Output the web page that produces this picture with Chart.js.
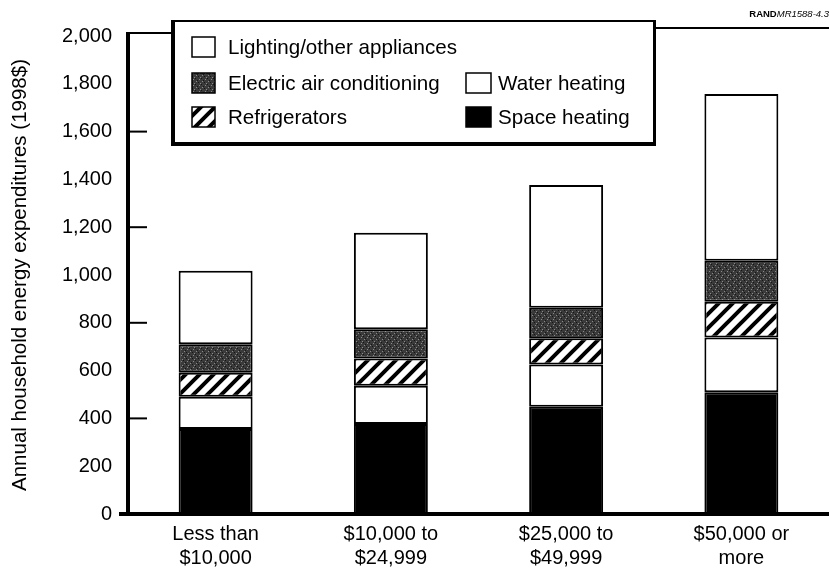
<!DOCTYPE html>
<html><head><meta charset="utf-8">
<script src="https://cdn.jsdelivr.net/npm/chart.js@4.4.1/dist/chart.umd.min.js"></script>
<style>html,body{margin:0;padding:0;background:#fff;}#wrap{width:829px;height:573px;position:relative;}</style>
</head><body><div id="wrap"><canvas id="c" width="829" height="573"></canvas></div>
<script>
const categories = [["Less than","$10,000"],["$10,000 to","$24,999"],["$25,000 to","$49,999"],["$50,000 or","more"]];
const spaceHeating    = [356, 377, 449, 509];
const waterHeating    = [135, 160, 177, 229];
const refrigerators   = [100, 114, 109, 150];
const airConditioning = [119, 122, 128, 172];
const lightingOther   = [308, 404, 514, 697];
const seriesNames = ["Space heating","Water heating","Refrigerators","Electric air conditioning","Lighting/other appliances"];
const yMin = 0, yMax = 2000, yStep = 200;
const innerTickValues = [400, 800, 1200, 1600];
const yTitle = "Annual household energy expenditures (1998$)";
const sourceBold = "RAND", sourceItalic = "MR1588-4.3";

const FONT = "'Liberation Sans', Arial, Helvetica, sans-serif";
const mainCtx = document.getElementById('c').getContext('2d');

function makeHatch(){
  const t=document.createElement('canvas'); t.width=14; t.height=14;
  const x=t.getContext('2d');
  x.fillStyle='#fff'; x.fillRect(0,0,14,14);
  x.strokeStyle='#000'; x.lineWidth=4; x.beginPath();
  x.moveTo(-3,17); x.lineTo(17,-3);
  x.moveTo(-3,3); x.lineTo(3,-3);
  x.moveTo(11,17); x.lineTo(17,11);
  x.stroke();
  return mainCtx.createPattern(t,'repeat');
}
function makeStipple(){
  const t=document.createElement('canvas'); t.width=6; t.height=6;
  const x=t.getContext('2d');
  x.fillStyle='#3a3a3a'; x.fillRect(0,0,6,6);
  x.fillStyle='#8a8a8a'; x.fillRect(1,1,1,1); x.fillRect(4,3,1,1); x.fillRect(2,5,1,1);
  x.fillStyle='#151515'; x.fillRect(3,0,1,1); x.fillRect(0,4,1,1); x.fillRect(5,2,1,1);
  return mainCtx.createPattern(t,'repeat');
}
const hatchPat = makeHatch();
const stipplePat = makeStipple();
const fills = ['#000000', '#ffffff', hatchPat, stipplePat, '#ffffff'];
const values = [spaceHeating, waterHeating, refrigerators, airConditioning, lightingOther];

const decor = {
  id:'decor',
  afterDraw(chart){
    const {ctx, chartArea:a, scales:{y}} = chart;
    ctx.save();
    ctx.strokeStyle='#000';
    // inward ticks
    ctx.lineWidth=2;
    innerTickValues.forEach(v=>{
      const py=y.getPixelForValue(v);
      ctx.beginPath(); ctx.moveTo(a.left, py); ctx.lineTo(a.left+19, py); ctx.stroke();
    });
    // top frame line
    const top=y.getPixelForValue(yMax)-3;
    ctx.beginPath(); ctx.moveTo(a.left, top); ctx.lineTo(172, top); ctx.stroke();
    ctx.beginPath(); ctx.moveTo(656, 28); ctx.lineTo(829, 28); ctx.stroke();
    // y axis extension up to the frame, x axis extension to the left
    ctx.lineWidth=4;
    ctx.beginPath(); ctx.moveTo(a.left, top-1); ctx.lineTo(a.left, a.top+1); ctx.stroke();
    ctx.beginPath(); ctx.moveTo(119, a.bottom); ctx.lineTo(a.left, a.bottom); ctx.stroke();
    // legend box
    const L=171, T=20, R=656, B=146;
    ctx.fillStyle='#fff'; ctx.fillRect(L,T,R-L,B-T);
    ctx.lineWidth=2; ctx.beginPath(); ctx.moveTo(L,T+1); ctx.lineTo(R,T+1); ctx.stroke();
    ctx.lineWidth=4; ctx.beginPath(); ctx.moveTo(L+2,T); ctx.lineTo(L+2,B); ctx.stroke();
    ctx.lineWidth=4; ctx.beginPath(); ctx.moveTo(L,B-2); ctx.lineTo(R,B-2); ctx.stroke();
    ctx.lineWidth=3; ctx.beginPath(); ctx.moveTo(R-1.5,T); ctx.lineTo(R-1.5,B); ctx.stroke();
    // legend items: [dataset index, swatch x, swatch y, text x]
    const items=[[4,192,37,228],[3,192,73,228],[2,192,107,228],[1,466,73,498],[0,466,107,498]];
    ctx.font='20.6px '+FONT; ctx.textBaseline='middle'; ctx.textAlign='left';
    items.forEach(([i,sx,sy,tx])=>{
      const w = sx<300?23:25, h=20;
      ctx.fillStyle=fills[i]; ctx.fillRect(sx,sy,w,h);
      ctx.lineWidth=1.5; ctx.strokeStyle='#000'; ctx.strokeRect(sx,sy,w,h);
      ctx.fillStyle='#000';
      ctx.fillText(chart.data.datasets[i].label, tx, sy+h/2+1);
    });
    // source note
    ctx.textBaseline='alphabetic'; ctx.textAlign='left';
    ctx.font='italic 9.5px '+FONT;
    const wi=ctx.measureText(sourceItalic).width;
    ctx.font='bold 9.5px '+FONT;
    const wb=ctx.measureText(sourceBold).width;
    const x0=829-wi-wb;
    ctx.fillText(sourceBold, x0, 17);
    ctx.font='italic 9.5px '+FONT;
    ctx.fillText(sourceItalic, x0+wb, 17);
    ctx.restore();
  }
};

new Chart(mainCtx, {
  type:'bar',
  data:{
    labels:categories,
    datasets: seriesNames.map((n,i)=>({
      label:n, data:values[i], backgroundColor:fills[i],
      borderColor:'#000', borderWidth:2, borderSkipped:false
    }))
  },
  options:{
    responsive:false, animation:false,
    devicePixelRatio:1,
    layout:{padding:{top:36,right:0,left:0,bottom:0}},
    plugins:{legend:{display:false}, tooltip:{enabled:false}},
    datasets:{bar:{barPercentage:0.422, categoryPercentage:1}},
    scales:{
      x:{
        stacked:true,
        grid:{display:false},
        border:{display:true,width:4,color:'#000'},
        ticks:{color:'#000',font:{family:FONT,size:20,lineHeight:1.2},padding:0,maxRotation:0,autoSkip:false},
        afterFit(s){ s.height=59; }
      },
      y:{
        stacked:true, min:yMin, max:yMax,
        grid:{display:false},
        border:{display:true,width:4,color:'#000'},
        ticks:{stepSize:yStep,color:'#000',font:{family:FONT,size:20},padding:8,
          callback:v=>v.toLocaleString('en-US')},
        title:{display:true,text:yTitle,color:'#000',font:{family:FONT,size:20.5,lineHeight:1.2},padding:{top:8,bottom:0}},
        afterFit(s){ s.width=128; }
      }
    }
  },
  plugins:[decor]
});
</script></body></html>
